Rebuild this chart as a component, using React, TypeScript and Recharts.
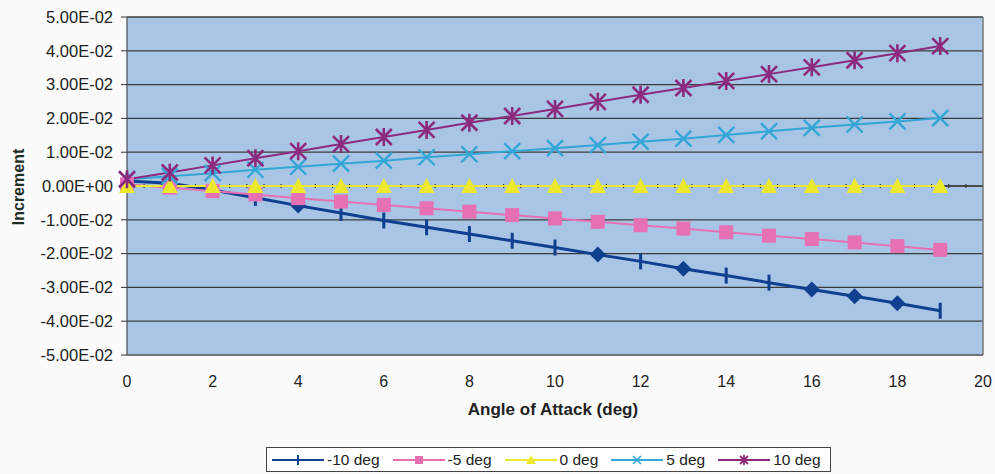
import { LineChart, Line, XAxis, YAxis, CartesianGrid, ReferenceLine } from "recharts";

// angle of attack (deg)
const ANGLES = [0, 1, 2, 3, 4, 5, 6, 7, 8, 9, 10, 11, 12, 13, 14, 15, 16, 17, 18, 19];

// increment per deflection
const NEG10 = [0.0015, 0.0008, -0.0012, -0.0035, -0.0058, -0.008, -0.0102, -0.0122, -0.0142, -0.0162, -0.0182, -0.0203, -0.0223, -0.0245, -0.0265, -0.0286, -0.0306, -0.0326, -0.0347, -0.0369];
const NEG5 = [0.0005, -0.0005, -0.0015, -0.0025, -0.0036, -0.0046, -0.0056, -0.0066, -0.0076, -0.0086, -0.0096, -0.0106, -0.0116, -0.0126, -0.0137, -0.0147, -0.0157, -0.0167, -0.0178, -0.0189];
const ZERO = [0, 0, 0, 0, 0, 0, 0, 0, 0, 0, 0, 0, 0, 0, 0, 0, 0, 0, 0, 0];
const POS5 = [0.002, 0.0029, 0.0038, 0.0048, 0.0057, 0.0066, 0.0075, 0.0085, 0.0094, 0.0103, 0.0112, 0.0121, 0.0131, 0.014, 0.0151, 0.0162, 0.0172, 0.0182, 0.0191, 0.0201];
const POS10 = [0.002, 0.004, 0.0061, 0.0082, 0.0103, 0.0124, 0.0145, 0.0166, 0.0187, 0.0207, 0.0228, 0.0249, 0.027, 0.029, 0.0311, 0.0331, 0.0351, 0.0372, 0.0393, 0.0414];

const X_TICKS = [0, 2, 4, 6, 8, 10, 12, 14, 16, 18, 20];
const Y_TICKS = [-0.05, -0.04, -0.03, -0.02, -0.01, 0, 0.01, 0.02, 0.03, 0.04, 0.05];

// points on the -10 deg line that print as diamonds
const NEG10_DIAMONDS = [4, 11, 13, 16, 17, 18];

const data = ANGLES.map((angle, i) => ({
  angle,
  neg10: NEG10[i],
  neg5: NEG5[i],
  zero: ZERO[i],
  pos5: POS5[i],
  pos10: POS10[i],
}));

const FONT = '"Liberation Sans", Arial, sans-serif';
const NAVY = "#0f3f8f";
const PINK = "#e570b4";
const YELLOW = "#ece82e";
const CYAN = "#33a6d6";
const PURPLE = "#8c2a7e";

function sci(v: number) {
  if (v === 0) return "0.00E+00";
  const [m, e] = v.toExponential(2).split("e");
  const n = parseInt(e, 10);
  return `${m}E${n < 0 ? "-" : "+"}${String(Math.abs(n)).padStart(2, "0")}`;
}

type DotProps = { cx?: number; cy?: number; index?: number };

const TickDot = ({ cx, cy, index }: DotProps) => {
  if (cx == null || cy == null) return null;
  if (index != null && NEG10_DIAMONDS.includes(ANGLES[index])) {
    return <path d={`M${cx},${cy - 8}L${cx + 8},${cy}L${cx},${cy + 8}L${cx - 8},${cy}Z`} fill={NAVY} />;
  }
  return <line x1={cx} y1={cy - 8} x2={cx} y2={cy + 8} stroke={NAVY} strokeWidth={3} />;
};

const SquareDot = ({ cx, cy }: DotProps) =>
  cx == null || cy == null ? null : <rect x={cx - 7} y={cy - 7} width={14} height={14} fill={PINK} />;

const TriangleDot = ({ cx, cy }: DotProps) =>
  cx == null || cy == null ? null : (
    <path d={`M${cx},${cy - 8}L${cx + 8},${cy + 7}L${cx - 8},${cy + 7}Z`} fill={YELLOW} />
  );

const CrossDot = ({ cx, cy }: DotProps) =>
  cx == null || cy == null ? null : (
    <path d={`M${cx - 8},${cy - 8}L${cx + 8},${cy + 8}M${cx + 8},${cy - 8}L${cx - 8},${cy + 8}`} stroke={CYAN} strokeWidth={2.4} />
  );

const StarDot = ({ cx, cy }: DotProps) =>
  cx == null || cy == null ? null : (
    <path
      d={`M${cx - 8},${cy - 8}L${cx + 8},${cy + 8}M${cx + 8},${cy - 8}L${cx - 8},${cy + 8}M${cx},${cy - 9}L${cx},${cy + 9}`}
      stroke={PURPLE}
      strokeWidth={2.6}
    />
  );

// zero line with its small ticks, every 0.4 deg
const ZeroAxis = (props: any) => {
  const { x1, y1, x2 } = props;
  if (x1 == null) return null;
  const n = 50;
  const step = (x2 - x1) / n;
  const marks = [];
  for (let i = 1; i < n; i++) {
    const x = x1 + i * step;
    marks.push(<line key={i} x1={x} y1={y1 - 2} x2={x} y2={y1 + 2} stroke="#333" strokeWidth={1.2} />);
  }
  return (
    <g>
      <line x1={x1} y1={y1} x2={x2} y2={y1} stroke="#444" strokeWidth={1.3} />
      {marks}
    </g>
  );
};

const LEGEND = [
  { label: "-10 deg", color: NAVY, icon: "tick" },
  { label: "-5 deg", color: PINK, icon: "square" },
  { label: "0 deg", color: YELLOW, icon: "triangle" },
  { label: "5 deg", color: CYAN, icon: "cross" },
  { label: "10 deg", color: PURPLE, icon: "star" },
];

function LegendIcon({ icon, color }: { icon: string; color: string }) {
  const c = 26;
  const m = 6;
  let mark = null;
  if (icon === "tick") mark = <line x1={c} y1={m - 5} x2={c} y2={m + 5} stroke={color} strokeWidth={2} />;
  if (icon === "square") mark = <rect x={c - 4} y={m - 4} width={8} height={8} fill={color} />;
  if (icon === "triangle") mark = <path d={`M${c},${m - 5}L${c + 5},${m + 4}L${c - 5},${m + 4}Z`} fill={color} />;
  if (icon === "cross")
    mark = <path d={`M${c - 4},${m - 4}L${c + 4},${m + 4}M${c + 4},${m - 4}L${c - 4},${m + 4}`} stroke={color} strokeWidth={1.6} />;
  if (icon === "star")
    mark = (
      <path
        d={`M${c - 4},${m - 4}L${c + 4},${m + 4}M${c + 4},${m - 4}L${c - 4},${m + 4}M${c},${m - 5}L${c},${m + 5}`}
        stroke={color}
        strokeWidth={1.8}
      />
    );
  return (
    <svg width={52} height={12} style={{ display: "block", flexShrink: 0 }}>
      <line x1={0} y1={m} x2={52} y2={m} stroke={color} strokeWidth={2} />
      {mark}
    </svg>
  );
}

function ChartLegend() {
  return (
    <div
      style={{
        position: "absolute",
        left: 266,
        top: 447,
        width: 565,
        height: 25,
        display: "flex",
        alignItems: "center",
        border: "1px solid #444",
        background: "#fff",
        padding: "0 5px",
        boxSizing: "border-box",
        fontFamily: FONT,
        fontSize: 15.5,
        color: "#222",
        whiteSpace: "nowrap",
      }}
    >
      {LEGEND.map((it, i) => (
        <div
          key={it.label}
          style={{ display: "flex", alignItems: "center", flexShrink: 0, marginLeft: i === 0 ? 0 : 13 }}
        >
          <LegendIcon icon={it.icon} color={it.color} />
          <span style={{ marginLeft: 3 }}>{it.label}</span>
        </div>
      ))}
    </div>
  );
}

export default function App() {
  return (
    <div style={{ position: "absolute", left: 0, top: 0, width: 995, height: 474, background: "#fbfbfb" }}>
      <LineChart width={995} height={474} data={data} margin={{ top: 17, right: 12, bottom: 89, left: 7 }}>
        <CartesianGrid vertical={false} stroke="#3c3c3c" strokeWidth={1.3} fill="#a9c5e5" fillOpacity={1} />
        <XAxis
          dataKey="angle"
          type="number"
          domain={[0, 20]}
          ticks={X_TICKS}
          height={30}
          tickLine={false}
          axisLine={{ stroke: "#777", strokeWidth: 1.5 }}
          tickMargin={15}
          tick={{ fill: "#222", fontFamily: FONT, fontSize: 16 }}
        />
        <YAxis
          type="number"
          domain={[-0.05, 0.05]}
          ticks={Y_TICKS}
          tickFormatter={sci}
          width={120}
          tickSize={6}
          tickMargin={8}
          axisLine={{ stroke: "#555", strokeWidth: 1.3 }}
          tickLine={{ stroke: "#333" }}
          tick={{ fill: "#222", fontFamily: FONT, fontSize: 16.5 }}
        />
        <ReferenceLine x={20} stroke="#777" strokeWidth={1.5} />
        <ReferenceLine y={0} shape={ZeroAxis} />
        <Line dataKey="neg10" stroke={NAVY} strokeWidth={3} dot={TickDot} activeDot={false} isAnimationActive={false} />
        <Line dataKey="neg5" stroke={PINK} strokeWidth={2} dot={SquareDot} activeDot={false} isAnimationActive={false} />
        <Line dataKey="zero" stroke={YELLOW} strokeWidth={2} dot={TriangleDot} activeDot={false} isAnimationActive={false} />
        <Line dataKey="pos5" stroke={CYAN} strokeWidth={2} dot={CrossDot} activeDot={false} isAnimationActive={false} />
        <Line dataKey="pos10" stroke={PURPLE} strokeWidth={2} dot={StarDot} activeDot={false} isAnimationActive={false} />
      </LineChart>
      <ChartLegend />
      <div
        style={{
          position: "absolute",
          left: 0,
          top: 400,
          width: 1106,
          textAlign: "center",
          fontFamily: FONT,
          fontWeight: "bold",
          fontSize: 17,
          color: "#222",
        }}
      >
        Angle of Attack (deg)
      </div>
      <div
        style={{
          position: "absolute",
          left: 19,
          top: 187,
          transform: "translate(-50%, -50%) rotate(-90deg)",
          fontFamily: FONT,
          fontWeight: "bold",
          fontSize: 16,
          color: "#1f2f26",
          whiteSpace: "nowrap",
        }}
      >
        Increment
      </div>
    </div>
  );
}
